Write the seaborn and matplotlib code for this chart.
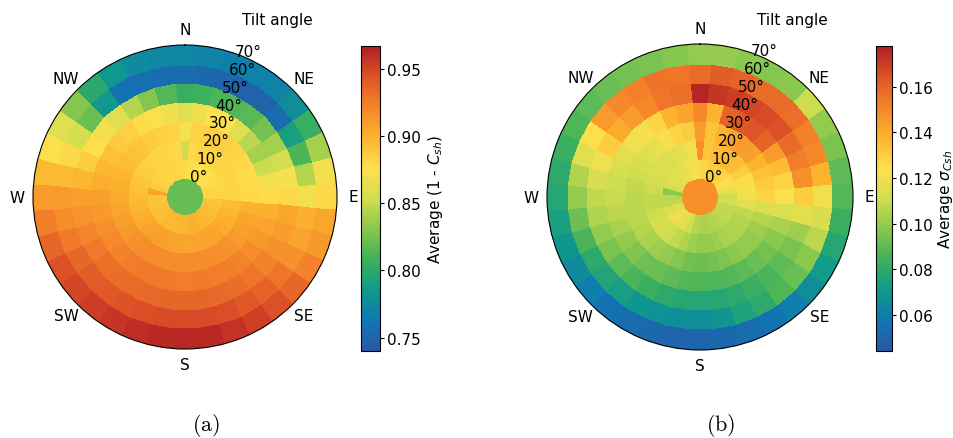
import numpy as np
import pandas as pd
import matplotlib
matplotlib.use("Agg")
import matplotlib.pyplot as plt
import seaborn as sns

# ---------------- data ----------------
azimuth_deg = list(range(0, 360, 10))          # sector centres, clockwise from North
tilt_labels = ["0°", "10°", "20°", "30°", "40°", "50°", "60°", "70°"]
compass_labels = ["N", "NE", "E", "SE", "S", "SW", "W", "NW"]

# (a) Average (1 - C_sh)
a_tilt0 = 0.82
a_tilt10 = [0.880, 0.877, 0.875, 0.875, 0.875, 0.876, 0.878, 0.880, 0.881, 0.882, 0.890, 0.892,
            0.894, 0.896, 0.897, 0.898, 0.900, 0.900, 0.898, 0.897, 0.896, 0.896, 0.897, 0.895,
            0.893, 0.892, 0.890, 0.890, 0.906, 0.888, 0.885, 0.883, 0.882, 0.881, 0.881, 0.881]
a_tilt20 = [0.852, 0.880, 0.882, 0.882, 0.881, 0.881, 0.881, 0.881, 0.881, 0.882, 0.895, 0.898,
            0.900, 0.903, 0.905, 0.906, 0.906, 0.906, 0.905, 0.906, 0.907, 0.908, 0.908, 0.906,
            0.903, 0.900, 0.897, 0.895, 0.892, 0.889, 0.886, 0.884, 0.882, 0.881, 0.881, 0.880]
a_tilt30 = [0.872, 0.882, 0.885, 0.886, 0.884, 0.882, 0.880, 0.879, 0.879, 0.880, 0.900, 0.905,
            0.908, 0.912, 0.915, 0.916, 0.917, 0.918, 0.918, 0.918, 0.918, 0.918, 0.918, 0.915,
            0.912, 0.908, 0.905, 0.903, 0.901, 0.898, 0.895, 0.892, 0.889, 0.887, 0.885, 0.882]
a_tilt40 = [0.860, 0.868, 0.876, 0.876, 0.860, 0.847, 0.840, 0.851, 0.869, 0.878, 0.900, 0.906,
            0.912, 0.918, 0.922, 0.924, 0.925, 0.926, 0.925, 0.926, 0.926, 0.926, 0.925, 0.922,
            0.919, 0.916, 0.912, 0.908, 0.902, 0.897, 0.892, 0.888, 0.884, 0.879, 0.875, 0.868]
a_tilt50 = [0.805, 0.808, 0.812, 0.815, 0.817, 0.825, 0.840, 0.855, 0.872, 0.880, 0.905, 0.910,
            0.915, 0.922, 0.928, 0.932, 0.934, 0.935, 0.935, 0.935, 0.934, 0.933, 0.932, 0.930,
            0.926, 0.921, 0.914, 0.908, 0.897, 0.886, 0.877, 0.870, 0.860, 0.845, 0.830, 0.815]
a_tilt60 = [0.755, 0.752, 0.750, 0.748, 0.748, 0.755, 0.790, 0.812, 0.845, 0.870, 0.900, 0.906,
            0.915, 0.928, 0.936, 0.942, 0.946, 0.948, 0.948, 0.948, 0.946, 0.944, 0.942, 0.940,
            0.935, 0.926, 0.918, 0.911, 0.896, 0.880, 0.855, 0.822, 0.785, 0.760, 0.756, 0.755]
a_tilt70 = [0.772, 0.770, 0.768, 0.769, 0.770, 0.778, 0.805, 0.840, 0.870, 0.880, 0.905, 0.912,
            0.922, 0.935, 0.945, 0.952, 0.958, 0.962, 0.963, 0.962, 0.960, 0.957, 0.953, 0.950,
            0.945, 0.935, 0.924, 0.911, 0.896, 0.877, 0.860, 0.830, 0.800, 0.785, 0.775, 0.772]

# (b) Average sigma_Csh
b_tilt0 = 0.148
b_tilt10 = [0.120, 0.128, 0.130, 0.130, 0.130, 0.128, 0.125, 0.122, 0.118, 0.110, 0.112, 0.108,
            0.108, 0.108, 0.107, 0.106, 0.105, 0.104, 0.105, 0.106, 0.110, 0.116, 0.118, 0.120,
            0.118, 0.114, 0.108, 0.107, 0.098, 0.112, 0.115, 0.117, 0.117, 0.118, 0.120, 0.122]
b_tilt20 = [0.148, 0.132, 0.135, 0.136, 0.136, 0.135, 0.130, 0.126, 0.122, 0.120, 0.115, 0.108,
            0.106, 0.105, 0.105, 0.104, 0.102, 0.100, 0.100, 0.102, 0.105, 0.108, 0.110, 0.112,
            0.112, 0.110, 0.108, 0.108, 0.110, 0.112, 0.114, 0.114, 0.113, 0.115, 0.118, 0.120]
b_tilt30 = [0.145, 0.133, 0.138, 0.142, 0.145, 0.143, 0.138, 0.133, 0.130, 0.128, 0.114, 0.106,
            0.102, 0.100, 0.100, 0.098, 0.096, 0.094, 0.093, 0.094, 0.097, 0.100, 0.102, 0.104,
            0.106, 0.107, 0.107, 0.107, 0.108, 0.110, 0.113, 0.116, 0.118, 0.122, 0.128, 0.130]
b_tilt40 = [0.150, 0.138, 0.160, 0.163, 0.164, 0.160, 0.145, 0.135, 0.128, 0.123, 0.114, 0.104,
            0.098, 0.094, 0.092, 0.090, 0.088, 0.087, 0.087, 0.088, 0.090, 0.092, 0.093, 0.096,
            0.100, 0.104, 0.107, 0.109, 0.110, 0.113, 0.116, 0.120, 0.122, 0.128, 0.138, 0.142]
b_tilt50 = [0.176, 0.172, 0.170, 0.168, 0.167, 0.165, 0.158, 0.153, 0.148, 0.130, 0.116, 0.102,
            0.095, 0.090, 0.086, 0.083, 0.080, 0.078, 0.077, 0.078, 0.080, 0.083, 0.086, 0.090,
            0.095, 0.100, 0.105, 0.108, 0.113, 0.120, 0.130, 0.140, 0.145, 0.150, 0.155, 0.157]
b_tilt60 = [0.158, 0.162, 0.160, 0.158, 0.158, 0.157, 0.152, 0.150, 0.138, 0.120, 0.113, 0.107,
            0.098, 0.092, 0.087, 0.080, 0.075, 0.070, 0.066, 0.066, 0.068, 0.070, 0.073, 0.076,
            0.080, 0.086, 0.093, 0.100, 0.105, 0.115, 0.125, 0.145, 0.150, 0.152, 0.156, 0.155]
b_tilt70 = [0.100, 0.101, 0.098, 0.097, 0.098, 0.110, 0.100, 0.095, 0.090, 0.088, 0.083, 0.078,
            0.072, 0.066, 0.060, 0.056, 0.053, 0.051, 0.050, 0.050, 0.051, 0.053, 0.056, 0.060,
            0.065, 0.070, 0.074, 0.077, 0.080, 0.083, 0.087, 0.090, 0.092, 0.094, 0.095, 0.097]

a_ticks = [0.75, 0.80, 0.85, 0.90, 0.95]
b_ticks = [0.06, 0.08, 0.10, 0.12, 0.14, 0.16]
a_range = (0.740, 0.967)
b_range = (0.044, 0.178)

# ---------------- style ----------------
sns.set_theme(style="white")
plt.rcParams['font.family'] = ['DejaVu Sans']
plt.rcParams['mathtext.fontset'] = 'dejavusans'
for key in ['text.color', 'axes.labelcolor', 'xtick.color', 'ytick.color']:
    plt.rcParams[key] = 'black'

FS = 11

cmap = sns.blend_palette(["#2a57a5", "#0f78b4", "#0f9a8c", "#3fb15b", "#88c74e", "#d2de4f",
                          "#fde04e", "#fcb42e", "#f5842a", "#de5326", "#b01f24"],
                         n_colors=256, as_cmap=True)

fig = plt.figure(figsize=(9.54, 4.39), dpi=100)
W, H = 954.0, 439.0


def panel(cx, cy, rad, cax_px, tilt0, rings, vrange, ticks, cbar_label, caption, tilt_x,
          label_pad):
    ax = fig.add_axes([(cx - rad) / W, (H - cy - rad) / H, 2 * rad / W, 2 * rad / H],
                      projection='polar')
    ax.set_theta_zero_location('N')
    ax.set_theta_direction(-1)
    ax.set_axisbelow(False)
    # long-form table -> grid
    rows = []
    for k, ring in enumerate([[tilt0] * len(azimuth_deg)] + rings):
        for az, v in zip(azimuth_deg, ring):
            rows.append({"tilt": k, "azimuth": az, "value": v})
    df = pd.DataFrame(rows)
    grid = df.pivot(index="tilt", columns="azimuth", values="value").values
    theta_edges = np.deg2rad(np.arange(-5, 360, 10))
    r_edges = np.arange(0, grid.shape[0] + 1)
    T, R = np.meshgrid(theta_edges, r_edges)
    mesh = ax.pcolormesh(T, R, grid, cmap=cmap, vmin=vrange[0], vmax=vrange[1],
                         shading='flat', edgecolors='face', linewidth=0.2, zorder=1)
    ax.set_ylim(0, grid.shape[0])
    ax.set_yticks(np.arange(1, grid.shape[0] + 1) - 0.27)
    ax.set_yticklabels(tilt_labels, fontsize=FS)
    ax.set_rlabel_position(20)
    ax.set_xticks(np.deg2rad(np.arange(0, 360, 45)))
    ax.set_xticklabels(compass_labels, fontsize=FS)
    ax.tick_params(axis='x', pad=4.5, length=0)
    ax.tick_params(axis='y', length=0)
    for lbl in ax.get_yticklabels():
        lbl.set_zorder(5)
    ax.grid(False)
    ax.spines['polar'].set_color('black')
    ax.spines['polar'].set_linewidth(0.8)
    ax.spines['polar'].set_zorder(4)

    cax = fig.add_axes([cax_px[0] / W, (H - cax_px[3]) / H, (cax_px[1] - cax_px[0]) / W,
                        (cax_px[3] - cax_px[2]) / H])
    cax.set_zorder(-1)
    cb = fig.colorbar(mesh, cax=cax, ticks=ticks)
    cb.outline.set_edgecolor('black')
    cb.outline.set_linewidth(0.8)
    cax.tick_params(labelsize=FS, length=3, width=0.8, color='black', left=False, right=True,
                    pad=2)
    cax.set_ylabel(cbar_label, fontsize=FS, labelpad=label_pad)

    fig.text(tilt_x / W, 1 - 21 / H, "Tilt angle", ha='center', va='center', fontsize=FS)
    fig.text((cx + 21) / W, 1 - 426 / H, caption, ha='center', va='center', fontsize=16,
             math_fontfamily='cm')


panel(185, 198, 152, (361, 380, 47, 352), a_tilt0,
      [a_tilt10, a_tilt20, a_tilt30, a_tilt40, a_tilt50, a_tilt60, a_tilt70],
      a_range, a_ticks, r"Average (1 - $C_{sh}$)", r"$\mathrm{(a)}$", 277, 4)
panel(700, 198, 153, (876, 892, 47, 352), b_tilt0,
      [b_tilt10, b_tilt20, b_tilt30, b_tilt40, b_tilt50, b_tilt60, b_tilt70],
      b_range, b_ticks, r"Average $\sigma_{Csh}$", r"$\mathrm{(b)}$", 792, 2)

fig.savefig("out.png", dpi=100)
